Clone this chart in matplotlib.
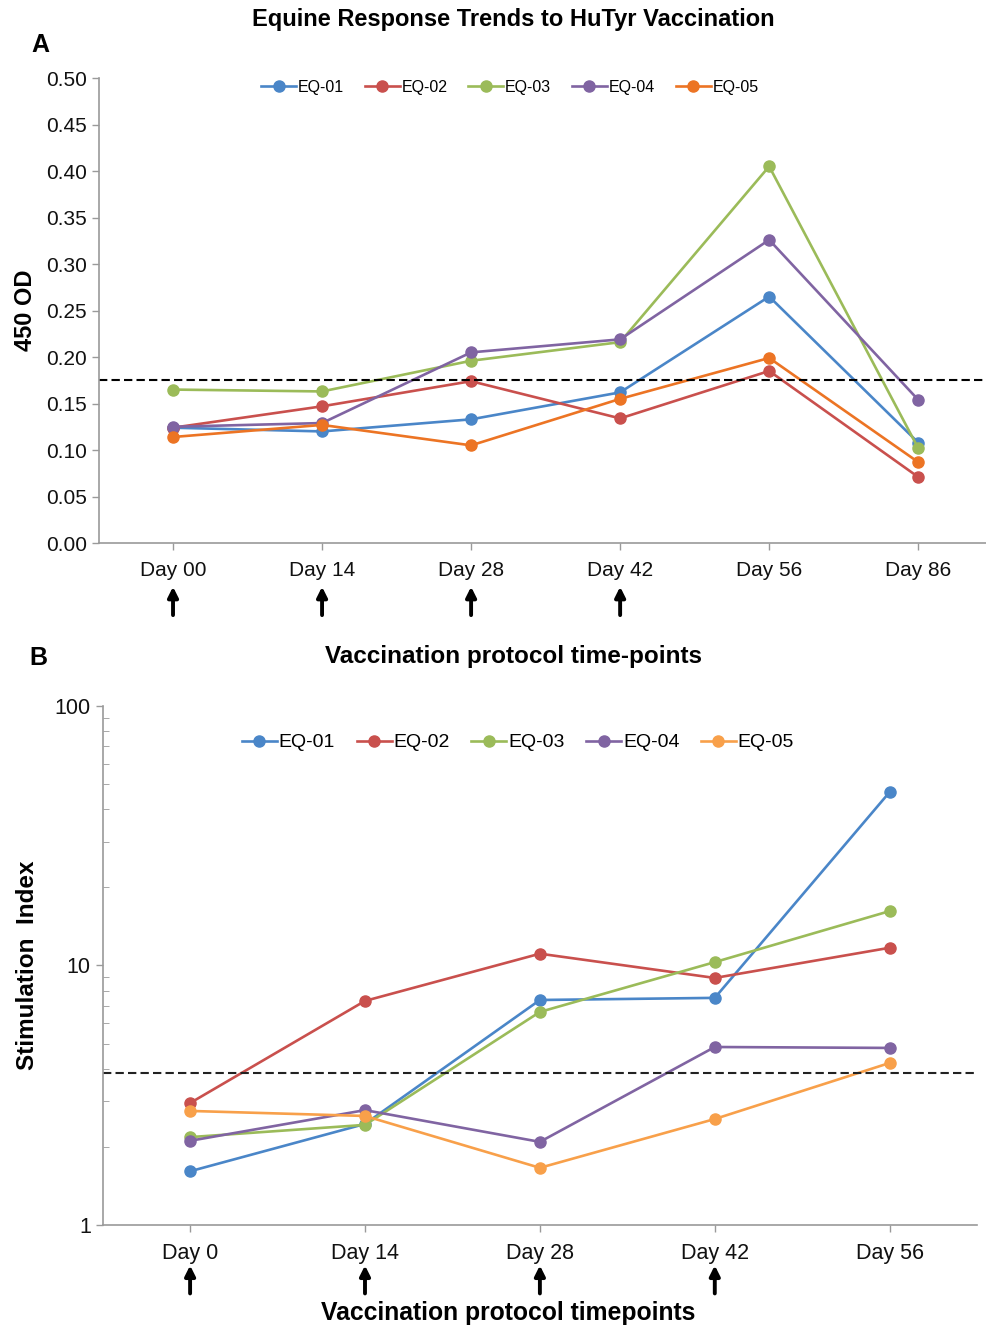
import matplotlib.pyplot as plt
from matplotlib.ticker import LogLocator, NullFormatter, FixedLocator

plt.rcParams['font.family'] = ['Liberation Sans', 'DejaVu Sans']

horses = ["EQ-01", "EQ-02", "EQ-03", "EQ-04", "EQ-05"]

# panel A: ELISA optical density
days_a = ["Day 00", "Day 14", "Day 28", "Day 42", "Day 56", "Day 86"]
od_eq01 = [0.124, 0.120, 0.133, 0.162, 0.265, 0.108]
od_eq02 = [0.124, 0.147, 0.174, 0.134, 0.185, 0.071]
od_eq03 = [0.165, 0.163, 0.196, 0.216, 0.405, 0.102]
od_eq04 = [0.125, 0.129, 0.205, 0.219, 0.326, 0.154]
od_eq05 = [0.114, 0.127, 0.105, 0.155, 0.199, 0.087]
od_cutoff = 0.175

# panel B: stimulation index (log scale)
days_b = ["Day 0", "Day 14", "Day 28", "Day 42", "Day 56"]
si_eq01 = [1.61, 2.45, 7.36, 7.5, 46.6]
si_eq02 = [2.95, 7.3, 11.1, 8.95, 11.7]
si_eq03 = [2.18, 2.43, 6.62, 10.3, 16.2]
si_eq04 = [2.11, 2.77, 2.09, 4.85, 4.81]
si_eq05 = [2.75, 2.63, 1.66, 2.56, 4.21]
si_cutoff = 3.85

vacc_days = [0, 1, 2, 3]  # index of the vaccination time-points (arrows)

colors_a = ["#4a86c8", "#c9504d", "#9bbb59", "#8064a2", "#ec7424"]
colors_b = ["#4a86c8", "#c9504d", "#9bbb59", "#8064a2", "#f8a04a"]

fig = plt.figure(figsize=(9.87, 13.29), dpi=100)
axA = fig.add_axes([0.0998, 0.5914, 0.906, 0.3499])
axB = fig.add_axes([0.104, 0.0783, 0.886, 0.3905])


def style_axis(ax):
    for s in ["top", "right"]:
        ax.spines[s].set_visible(False)
    for s in ["left", "bottom"]:
        ax.spines[s].set_color("#9a9a9a")
        ax.spines[s].set_linewidth(1.2)
    ax.tick_params(axis="both", colors="#9a9a9a", labelcolor="#111111",
                   length=5, width=1.0)


def vacc_arrows(ax, y_tip, y_tail):
    for i in vacc_days:
        ax.annotate("", xy=(i, y_tip), xytext=(i, y_tail),
                    xycoords=ax.get_xaxis_transform(),
                    textcoords=ax.get_xaxis_transform(),
                    arrowprops=dict(arrowstyle="-|>", color="black", lw=2.8,
                                    mutation_scale=15, shrinkA=0, shrinkB=0),
                    annotation_clip=False)


# ---- panel A ----
xa = list(range(len(days_a)))
for name, vals, c in zip(horses, [od_eq01, od_eq02, od_eq03, od_eq04, od_eq05], colors_a):
    axA.plot(xa, vals, color=c, lw=1.9, marker="o", ms=8, label=name)
axA.axhline(od_cutoff, color="black", lw=1.5, ls=(0, (4, 2)))
axA.set_xlim(-0.5, len(days_a) - 0.5)
axA.set_ylim(0, 0.5)
axA.set_yticks([i * 0.05 for i in range(11)])
axA.set_yticklabels([f"{i * 0.05:.2f}" for i in range(11)])
axA.set_xticks(xa)
axA.set_xticklabels(days_a)
style_axis(axA)
axA.tick_params(axis="x", labelsize=15, pad=8)
axA.tick_params(axis="y", labelsize=15)
axA.set_ylabel("450 OD", fontsize=17, fontweight="bold", labelpad=6)
axA.legend(loc="upper center", ncol=5, frameon=False, fontsize=11.5,
           handlelength=2.2, handletextpad=0.1, columnspacing=1.3,
           bbox_to_anchor=(0.46, 1.027))
vacc_arrows(axA, -0.094, -0.155)

# ---- panel B ----
xb = list(range(len(days_b)))
for name, vals, c in zip(horses, [si_eq01, si_eq02, si_eq03, si_eq04, si_eq05], colors_b):
    axB.plot(xb, vals, color=c, lw=1.9, marker="o", ms=8, label=name)
axB.axhline(si_cutoff, color="#222222", lw=1.5, ls=(0, (4, 2)))
axB.set_yscale("log")
axB.set_ylim(1, 100)
axB.set_xlim(-0.5, len(days_b) - 0.5)
axB.yaxis.set_major_locator(FixedLocator([1, 10, 100]))
axB.set_yticklabels(["1", "10", "100"])
axB.yaxis.set_minor_locator(LogLocator(base=10, subs=range(2, 10)))
axB.yaxis.set_minor_formatter(NullFormatter())
axB.set_xticks(xb)
axB.set_xticklabels(days_b)
style_axis(axB)
axB.tick_params(axis="y", which="minor", direction="in", length=4,
                colors="#9a9a9a")
axB.tick_params(axis="x", labelsize=15.5, pad=8)
axB.tick_params(axis="y", which="major", labelsize=15.5)
axB.set_ylabel("Stimulation  Index", fontsize=17.5, fontweight="bold", labelpad=11)
axB.legend(loc="upper center", ncol=5, frameon=False, fontsize=14,
           handlelength=1.8, handletextpad=0.1, columnspacing=1.1,
           bbox_to_anchor=(0.475, 0.98))
vacc_arrows(axB, -0.078, -0.132)

# ---- figure texts ----
fig.text(0.520, 0.985, "Equine Response Trends to HuTyr Vaccination",
         ha="center", va="center", fontsize=17, fontweight="bold")
fig.text(0.041, 0.966, "A", ha="center", va="center", fontsize=18, fontweight="bold")
fig.text(0.039, 0.505, "B", ha="center", va="center", fontsize=18, fontweight="bold")
fig.text(0.520, 0.506, "Vaccination protocol time-points",
         ha="center", va="center", fontsize=17.5, fontweight="bold")
fig.text(0.515, 0.012, "Vaccination protocol timepoints",
         ha="center", va="center", fontsize=17.8, fontweight="bold")

fig.savefig("out.png", dpi=100)
